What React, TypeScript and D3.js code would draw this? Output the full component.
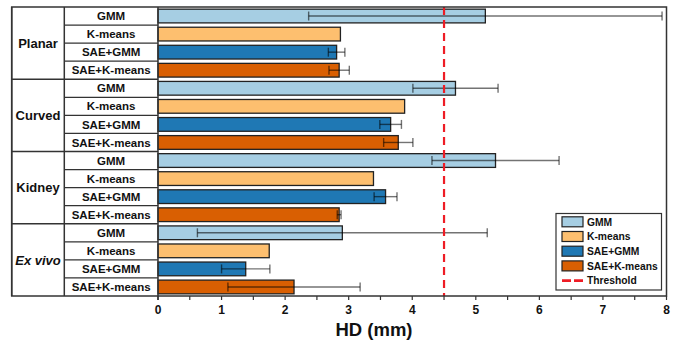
import { useEffect, useRef } from "react";
import * as d3 from "d3";

const groups = ["Planar", "Curved", "Kidney", "Ex vivo"];
const methods = ["GMM", "K-means", "SAE+GMM", "SAE+K-means"];
const colors = ["#a6cee3", "#fdbf6f", "#1f78b4", "#d95f02"];

// mean and std per method, one value per group
const gmmMean = [5.15, 4.68, 5.31, 2.9];
const gmmSd = [2.78, 0.67, 1.0, 2.28];
const kmMean = [2.87, 3.88, 3.39, 1.75];
const kmSd = [0, 0, 0, 0];
const saeGmmMean = [2.81, 3.66, 3.58, 1.38];
const saeGmmSd = [0.13, 0.17, 0.18, 0.38];
const saeKmMean = [2.85, 3.78, 2.85, 2.14];
const saeKmSd = [0.16, 0.23, 0.03, 1.04];

const threshold = 4.5;
const xTicks = [0, 1, 2, 3, 4, 5, 6, 7, 8];
const xMinorTicks = [0.5, 1.5, 2.5, 3.5, 4.5, 5.5, 6.5, 7.5];

const W = 681;
const H = 341;

export default function App() {
  const svgRef = useRef<SVGSVGElement>(null);

  useEffect(() => {
    if (!svgRef.current) return;
    const svg = d3.select(svgRef.current);
    svg.selectAll("*").remove();

    const left = 11.7;
    const col1 = 64.3;
    const plotL = 158;
    const plotR = 666.5;
    const top = 7;
    const bottom = 296;
    const font = "'Liberation Sans', Arial, sans-serif";

    const means = [gmmMean, kmMean, saeGmmMean, saeKmMean];
    const sds = [gmmSd, kmSd, saeGmmSd, saeKmSd];

    const rows = groups.flatMap((g, gi) =>
      methods.map((m, mi) => ({
        key: `${g}|${m}`,
        group: g,
        gi,
        mi,
        method: m,
        mean: means[mi][gi],
        sd: sds[mi][gi],
      }))
    );

    const x = d3.scaleLinear().domain([0, 8]).range([plotL, plotR]);
    const y = d3
      .scaleBand<string>()
      .domain(rows.map((r) => r.key))
      .range([top, bottom])
      .paddingInner(0.24)
      .paddingOuter(0.12);
    const rowH = (bottom - top) / rows.length;
    const rowTop = (i: number) => top + i * rowH;

    const stroke = "#333";

    // table lines
    const t = svg.append("g");
    rows.forEach((r, i) => {
      if (i === 0) return;
      const yy = rowTop(i);
      t.append("line")
        .attr("x1", r.mi === 0 ? left : col1)
        .attr("x2", plotL)
        .attr("y1", yy)
        .attr("y2", yy)
        .attr("stroke", stroke)
        .attr("stroke-width", 1.3);
    });
    [left, col1].forEach((xx) =>
      t.append("line")
        .attr("x1", xx).attr("x2", xx)
        .attr("y1", top).attr("y2", bottom)
        .attr("stroke", stroke).attr("stroke-width", 1.5)
    );

    // method labels
    t.selectAll("text.method")
      .data(rows)
      .join("text")
      .attr("class", "method")
      .attr("x", (col1 + plotL) / 2)
      .attr("y", (d) => y(d.key)! + y.bandwidth() / 2)
      .attr("dy", "0.36em")
      .attr("text-anchor", "middle")
      .attr("font-family", font)
      .attr("font-weight", "bold")
      .attr("font-size", 11.5)
      .attr("fill", "#111")
      .text((d) => d.method);

    // group labels
    t.selectAll("text.group")
      .data(groups)
      .join("text")
      .attr("class", "group")
      .attr("x", (left + col1) / 2)
      .attr("y", (d, i) => rowTop(i * 4) + rowH * 2)
      .attr("dy", "0.36em")
      .attr("text-anchor", "middle")
      .attr("font-family", font)
      .attr("font-weight", "bold")
      .attr("font-style", (d) => (d === "Ex vivo" ? "italic" : "normal"))
      .attr("font-size", 13)
      .attr("fill", "#111")
      .text((d) => d);

    // bars
    const g = svg.append("g");
    g.selectAll("rect.bar")
      .data(rows)
      .join("rect")
      .attr("class", "bar")
      .attr("x", x(0))
      .attr("y", (d) => y(d.key)!)
      .attr("width", (d) => x(d.mean) - x(0))
      .attr("height", y.bandwidth())
      .attr("fill", (d) => colors[d.mi])
      .attr("stroke", "#222")
      .attr("stroke-width", 1.3);

    // error bars
    const eb = rows.filter((d) => d.sd > 0);
    const ebColor = "rgba(0,0,0,0.55)";
    g.selectAll("line.err")
      .data(eb)
      .join("line")
      .attr("class", "err")
      .attr("x1", (d) => x(d.mean - d.sd))
      .attr("x2", (d) => x(d.mean + d.sd))
      .attr("y1", (d) => y(d.key)! + y.bandwidth() / 2)
      .attr("y2", (d) => y(d.key)! + y.bandwidth() / 2)
      .attr("stroke", ebColor)
      .attr("stroke-width", 1.4);
    [-1, 1].forEach((s) =>
      g.selectAll(`line.cap${s}`)
        .data(eb)
        .join("line")
        .attr("class", `cap${s}`)
        .attr("x1", (d) => x(d.mean + s * d.sd))
        .attr("x2", (d) => x(d.mean + s * d.sd))
        .attr("y1", (d) => y(d.key)! + y.bandwidth() / 2 - 4.5)
        .attr("y2", (d) => y(d.key)! + y.bandwidth() / 2 + 4.5)
        .attr("stroke", ebColor)
        .attr("stroke-width", 1.4)
    );

    // threshold
    svg.append("line")
      .attr("x1", x(threshold)).attr("x2", x(threshold))
      .attr("y1", top).attr("y2", bottom)
      .attr("stroke", "#ee1c25")
      .attr("stroke-width", 2.2)
      .attr("stroke-dasharray", "8,5");

    // plot frame
    svg.append("rect")
      .attr("x", left).attr("y", top)
      .attr("width", plotR - left).attr("height", bottom - top)
      .attr("fill", "none")
      .attr("stroke", stroke)
      .attr("stroke-width", 1.5);
    svg.append("line")
      .attr("x1", plotL).attr("x2", plotL)
      .attr("y1", top).attr("y2", bottom + 4)
      .attr("stroke", stroke).attr("stroke-width", 1.5);

    // x axis
    const ax = svg.append("g");
    ax.selectAll("line.tick")
      .data([...xTicks, ...xMinorTicks])
      .join("line")
      .attr("class", "tick")
      .attr("x1", (d) => x(d)).attr("x2", (d) => x(d))
      .attr("y1", bottom).attr("y2", bottom + 4)
      .attr("stroke", stroke).attr("stroke-width", 1.2);
    ax.selectAll("text.tl")
      .data(xTicks)
      .join("text")
      .attr("class", "tl")
      .attr("x", (d) => x(d))
      .attr("y", 313.5)
      .attr("text-anchor", "middle")
      .attr("font-family", font)
      .attr("font-weight", "bold")
      .attr("font-size", 12)
      .attr("fill", "#111")
      .text((d) => d);
    ax.append("text")
      .attr("x", 374)
      .attr("y", 335.5)
      .attr("text-anchor", "middle")
      .attr("font-family", font)
      .attr("font-weight", "bold")
      .attr("font-size", 18.5)
      .attr("fill", "#111")
      .text("HD (mm)");

    // legend
    const lx = 556;
    const ly = 213.5;
    const lg = svg.append("g");
    lg.append("rect")
      .attr("x", lx).attr("y", ly)
      .attr("width", 105.5).attr("height", 76.5)
      .attr("fill", "white")
      .attr("stroke", stroke).attr("stroke-width", 1.2);
    const items = [...methods, "Threshold"];
    items.forEach((name, i) => {
      const cy = ly + 8.3 + i * 14.7;
      if (i < 4) {
        lg.append("rect")
          .attr("x", lx + 6).attr("y", cy - 5)
          .attr("width", 21).attr("height", 10)
          .attr("fill", colors[i])
          .attr("stroke", "#222").attr("stroke-width", 1.2);
      } else {
        lg.append("line")
          .attr("x1", lx + 6).attr("x2", lx + 27)
          .attr("y1", cy).attr("y2", cy)
          .attr("stroke", "#ee1c25").attr("stroke-width", 2.6)
          .attr("stroke-dasharray", "9,3");
      }
      lg.append("text")
        .attr("x", lx + 31)
        .attr("y", cy)
        .attr("dy", "0.36em")
        .attr("font-family", font)
        .attr("font-weight", "bold")
        .attr("font-size", 10.3)
        .attr("fill", "#111")
        .text(name);
    });
  }, []);

  return (
    <div style={{ position: "absolute", left: 0, top: 0, background: "white" }}>
      <svg ref={svgRef} width={W} height={H} style={{ display: "block" }} />
    </div>
  );
}
